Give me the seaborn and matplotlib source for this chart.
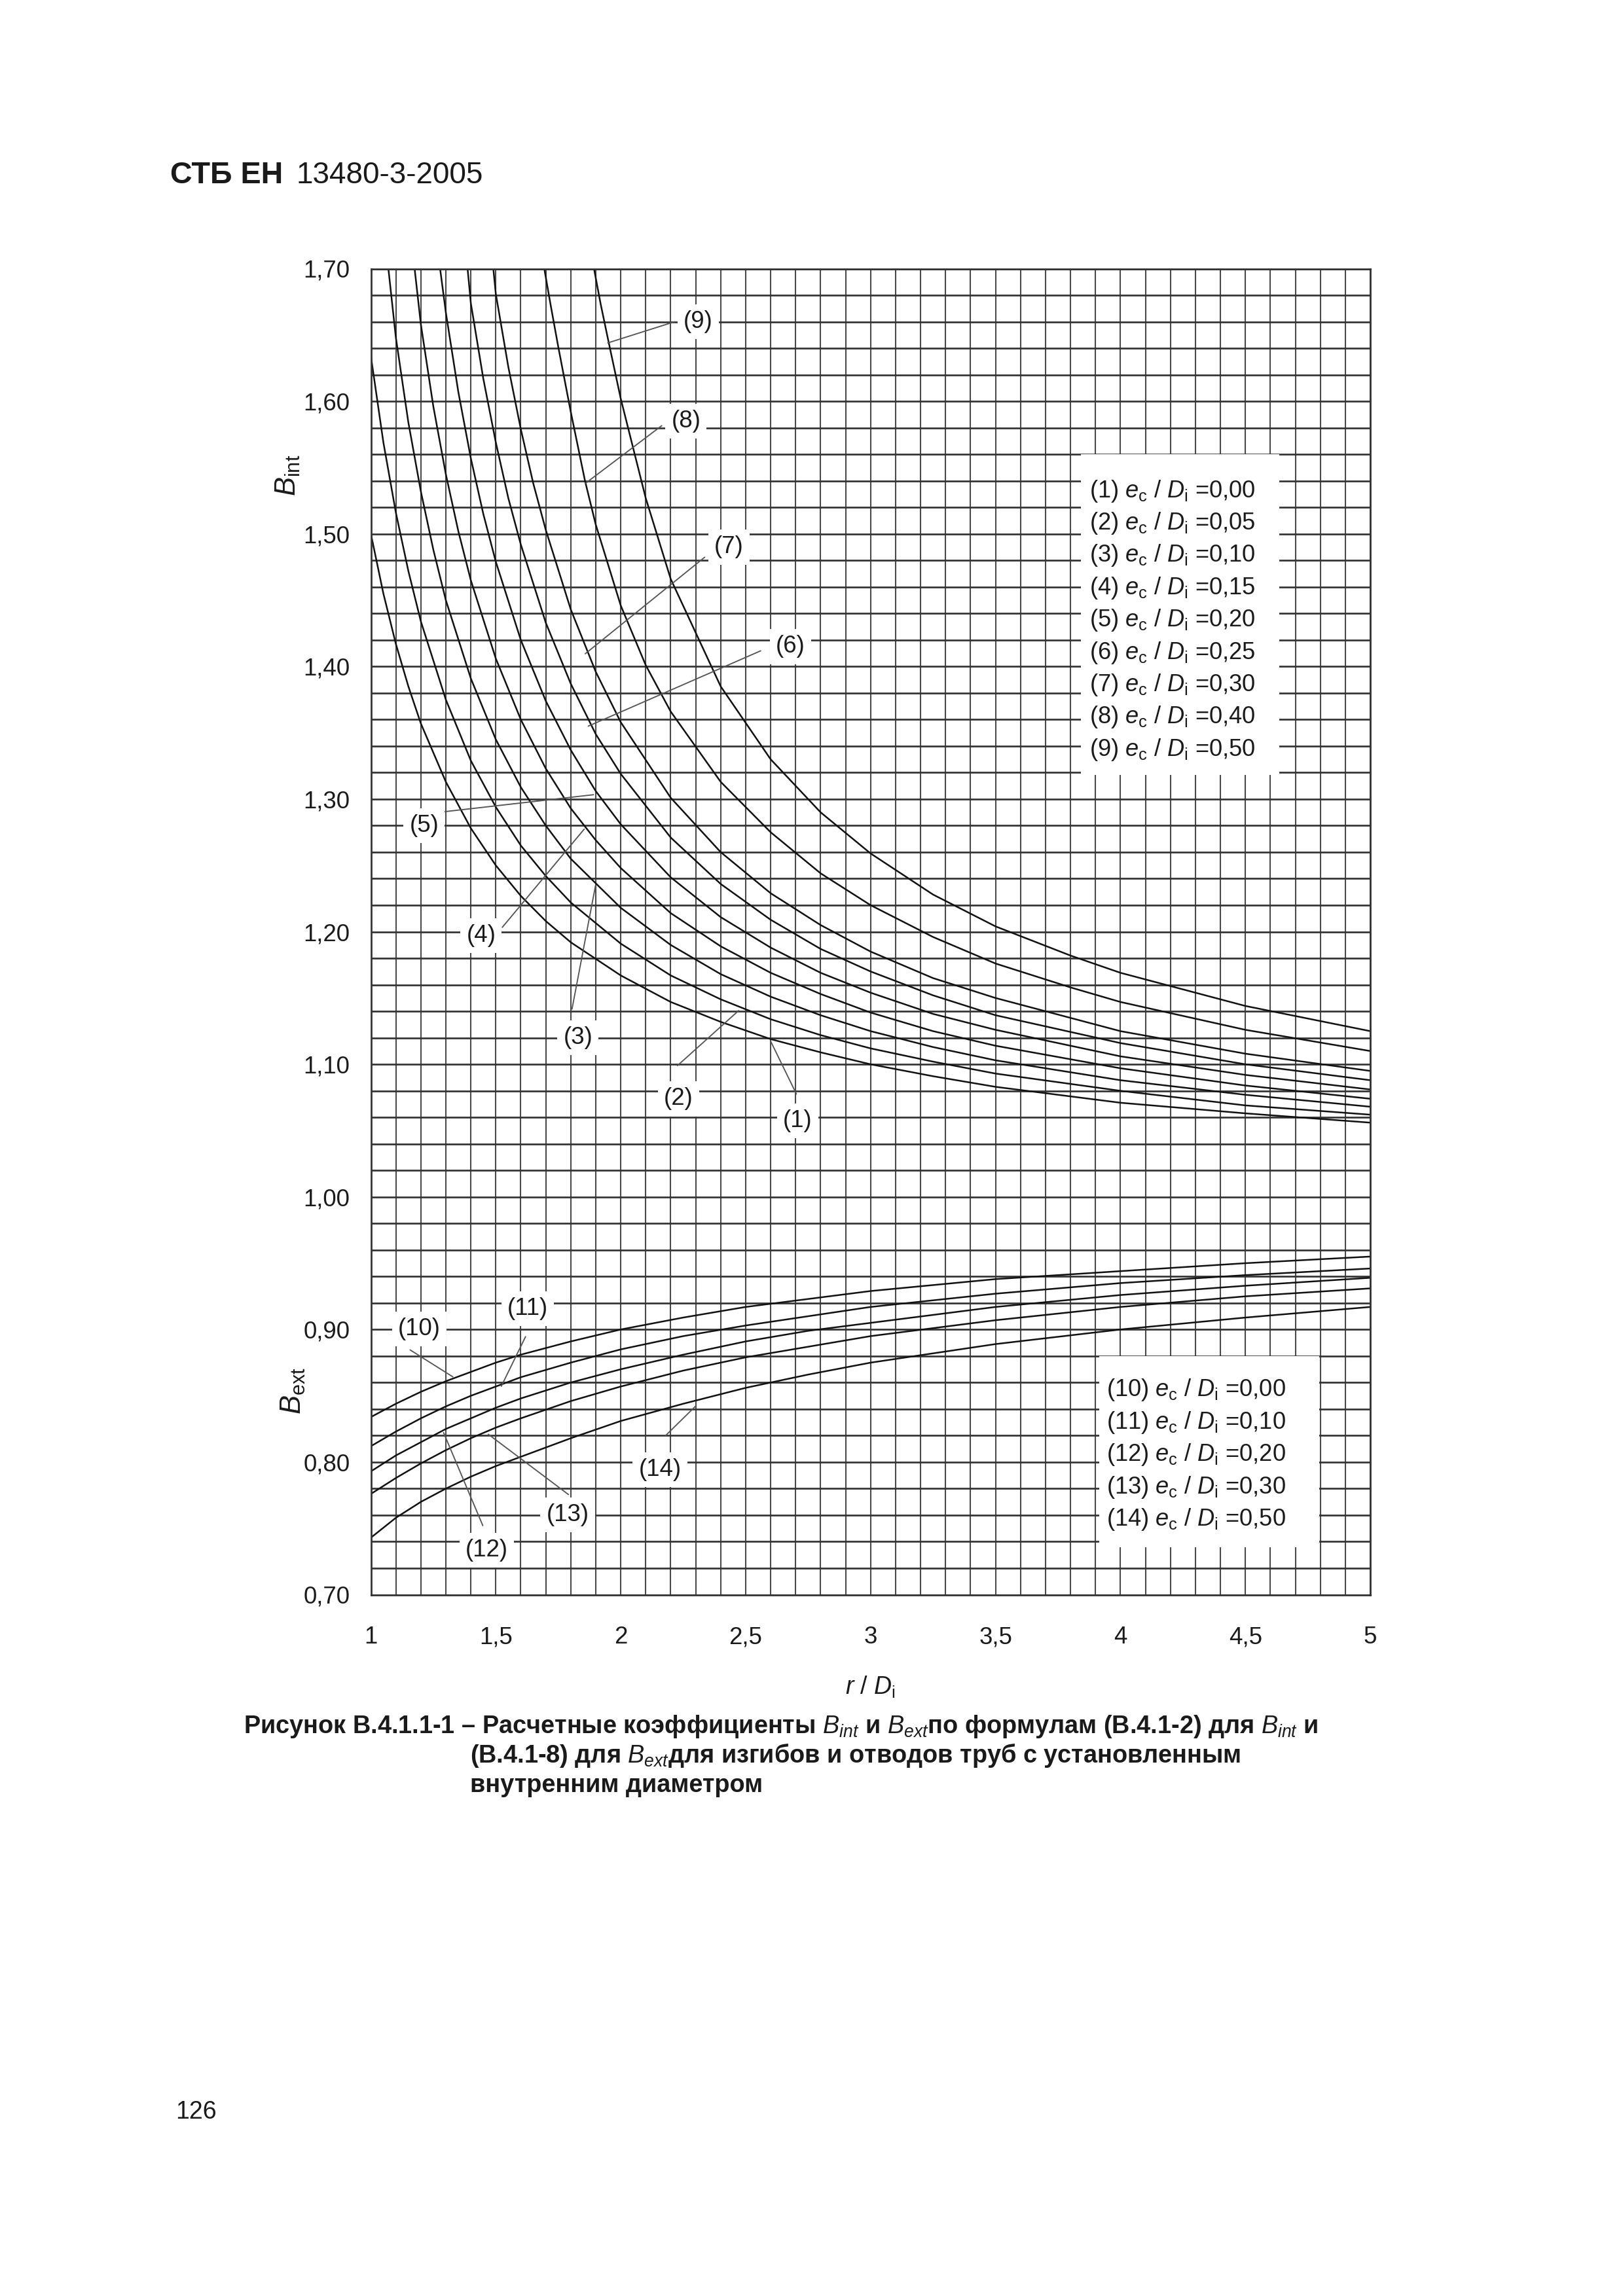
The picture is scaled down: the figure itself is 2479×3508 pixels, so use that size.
import numpy as np
import pandas as pd
import matplotlib
matplotlib.use("Agg")
import matplotlib.pyplot as plt
import matplotlib.transforms as mtransforms
from matplotlib.patches import Rectangle
import seaborn as sns

# ---------------- data ----------------
# B_int curves (1)..(9)
rd_1 = [1.0, 1.05, 1.1, 1.15, 1.2, 1.3, 1.4, 1.5, 1.6, 1.7, 1.8, 2.0, 2.2, 2.4, 2.6, 2.8, 3.0, 3.25, 3.5, 4.0, 4.5, 5.0]
bint_1 = [1.500, 1.455, 1.417, 1.385, 1.357, 1.313, 1.278, 1.250, 1.227, 1.208, 1.192, 1.167, 1.147, 1.132, 1.119, 1.109, 1.100, 1.091, 1.083, 1.071, 1.063, 1.056]
rd_2 = [1.0, 1.05, 1.1, 1.15, 1.2, 1.3, 1.4, 1.5, 1.6, 1.7, 1.8, 2.0, 2.2, 2.4, 2.6, 2.8, 3.0, 3.25, 3.5, 4.0, 4.5, 5.0]
bint_2 = [1.634, 1.569, 1.516, 1.472, 1.434, 1.375, 1.329, 1.294, 1.265, 1.242, 1.222, 1.191, 1.167, 1.149, 1.134, 1.122, 1.112, 1.102, 1.093, 1.080, 1.069, 1.062]
rd_3 = [1.07, 1.1, 1.15, 1.2, 1.25, 1.3, 1.4, 1.5, 1.6, 1.7, 1.8, 2.0, 2.2, 2.4, 2.6, 2.8, 3.0, 3.25, 3.5, 4.0, 4.5, 5.0]
bint_3 = [1.700, 1.648, 1.584, 1.532, 1.488, 1.450, 1.391, 1.345, 1.309, 1.280, 1.255, 1.218, 1.190, 1.168, 1.151, 1.137, 1.125, 1.113, 1.103, 1.088, 1.077, 1.068]
rd_4 = [1.175, 1.2, 1.25, 1.3, 1.35, 1.4, 1.5, 1.6, 1.7, 1.8, 1.9, 2.0, 2.2, 2.4, 2.6, 2.8, 3.0, 3.25, 3.5, 4.0, 4.5, 5.0]
bint_4 = [1.700, 1.658, 1.596, 1.545, 1.502, 1.465, 1.406, 1.360, 1.323, 1.293, 1.269, 1.248, 1.214, 1.189, 1.169, 1.153, 1.139, 1.125, 1.114, 1.097, 1.084, 1.074]
rd_5 = [1.277, 1.3, 1.35, 1.4, 1.45, 1.5, 1.6, 1.7, 1.8, 1.9, 2.0, 2.2, 2.4, 2.6, 2.8, 3.0, 3.25, 3.5, 4.0, 4.5, 5.0]
bint_5 = [1.700, 1.667, 1.607, 1.557, 1.515, 1.479, 1.420, 1.374, 1.337, 1.306, 1.281, 1.241, 1.211, 1.188, 1.169, 1.154, 1.138, 1.126, 1.106, 1.092, 1.081]
rd_6 = [1.387, 1.4, 1.45, 1.5, 1.55, 1.6, 1.7, 1.8, 1.9, 2.0, 2.2, 2.4, 2.6, 2.8, 3.0, 3.25, 3.5, 4.0, 4.5, 5.0]
bint_6 = [1.700, 1.674, 1.617, 1.569, 1.527, 1.492, 1.433, 1.387, 1.349, 1.319, 1.271, 1.236, 1.209, 1.187, 1.170, 1.152, 1.137, 1.116, 1.100, 1.088]
rd_7 = [1.49, 1.5, 1.55, 1.6, 1.65, 1.7, 1.8, 1.9, 2.0, 2.2, 2.4, 2.6, 2.8, 3.0, 3.25, 3.5, 4.0, 4.5, 5.0]
bint_7 = [1.700, 1.681, 1.626, 1.579, 1.538, 1.503, 1.443, 1.396, 1.358, 1.301, 1.260, 1.229, 1.205, 1.185, 1.165, 1.150, 1.125, 1.108, 1.095]
rd_8 = [1.694, 1.72, 1.75, 1.8, 1.857, 1.9, 2.0, 2.1, 2.2, 2.4, 2.6, 2.8, 3.0, 3.25, 3.5, 3.8, 4.0, 4.5, 5.0]
bint_8 = [1.700, 1.672, 1.641, 1.592, 1.540, 1.507, 1.446, 1.401, 1.366, 1.313, 1.275, 1.244, 1.220, 1.196, 1.176, 1.158, 1.147, 1.126, 1.110]
rd_9 = [1.893, 1.92, 1.95, 2.0, 2.1, 2.2, 2.4, 2.6, 2.8, 3.0, 3.25, 3.5, 3.8, 4.0, 4.5, 5.0]
bint_9 = [1.700, 1.673, 1.646, 1.602, 1.527, 1.466, 1.385, 1.330, 1.290, 1.259, 1.228, 1.204, 1.182, 1.169, 1.144, 1.125]

# B_ext curves (10)..(14)
rd_ext = [1.0, 1.1, 1.2, 1.3, 1.4, 1.5, 1.6, 1.8, 2.0, 2.25, 2.5, 2.75, 3.0, 3.5, 4.0, 4.5, 5.0]
bext_10 = [0.834, 0.844, 0.853, 0.861, 0.868, 0.875, 0.881, 0.891, 0.900, 0.909, 0.917, 0.923, 0.929, 0.938, 0.944, 0.950, 0.955]
bext_11 = [0.812, 0.823, 0.833, 0.842, 0.850, 0.857, 0.864, 0.875, 0.885, 0.895, 0.903, 0.910, 0.917, 0.927, 0.935, 0.941, 0.946]
bext_12 = [0.793, 0.805, 0.815, 0.825, 0.833, 0.841, 0.848, 0.860, 0.870, 0.881, 0.891, 0.899, 0.905, 0.917, 0.926, 0.933, 0.939]
bext_13 = [0.776, 0.788, 0.799, 0.809, 0.818, 0.826, 0.833, 0.846, 0.857, 0.869, 0.879, 0.887, 0.895, 0.907, 0.917, 0.925, 0.931]
bext_14 = [0.743, 0.758, 0.770, 0.780, 0.789, 0.797, 0.804, 0.818, 0.831, 0.844, 0.856, 0.866, 0.875, 0.889, 0.900, 0.909, 0.917]

# legend texts
int_ids = ["(1)", "(2)", "(3)", "(4)", "(5)", "(6)", "(7)", "(8)", "(9)"]
int_ratio = ["0,00", "0,05", "0,10", "0,15", "0,20", "0,25", "0,30", "0,40", "0,50"]
ext_ids = ["(10)", "(11)", "(12)", "(13)", "(14)"]
ext_ratio = ["0,00", "0,10", "0,20", "0,30", "0,50"]

x_tick_vals = [1, 1.5, 2, 2.5, 3, 3.5, 4, 4.5, 5]
x_tick_labels = ["1", "1,5", "2", "2,5", "3", "3,5", "4", "4,5", "5"]
y_tick_vals = [0.7, 0.8, 0.9, 1.0, 1.1, 1.2, 1.3, 1.4, 1.5, 1.6, 1.7]
y_tick_labels = ["0,70", "0,80", "0,90", "1,00", "1,10", "1,20", "1,30", "1,40", "1,50", "1,60", "1,70"]

# callout labels: text position, leader start, leader end (layout)
callouts = [
    ("(1)", (2.708, 1.0575), (2.703, 1.0776), (2.599, 1.1178)),
    ("(2)", (2.231, 1.0739), (2.227, 1.0990), (2.472, 1.1405)),
    ("(3)", (1.829, 1.1200), (1.805, 1.1417), (1.899, 1.2347)),
    ("(4)", (1.441, 1.1970), (1.526, 1.2033), (1.854, 1.2774)),
    ("(5)", (1.213, 1.2800), (1.295, 1.2905), (1.891, 1.3033)),
    ("(6)", (2.679, 1.4150), (2.560, 1.4118), (1.870, 1.3550)),
    ("(7)", (2.433, 1.4900), (2.336, 1.4824), (1.858, 1.4096)),
    ("(8)", (2.261, 1.5850), (2.164, 1.5816), (1.858, 1.5380)),
    ("(9)", (2.310, 1.6599), (2.216, 1.6600), (1.948, 1.6440)),
    ("(10)", (1.194, 0.9005), (1.157, 0.8846), (1.328, 0.8643)),
    ("(11)", (1.627, 0.9157), (1.619, 0.8946), (1.522, 0.8572)),
    ("(12)", (1.463, 0.7334), (1.448, 0.7521), (1.291, 0.8222)),
    ("(13)", (1.787, 0.7603), (1.791, 0.7755), (1.470, 0.8210)),
    ("(14)", (2.157, 0.7942), (2.179, 0.8199), (2.299, 0.8421)),
]

# ---------------- build table ----------------
frames = []
int_x = [rd_1, rd_2, rd_3, rd_4, rd_5, rd_6, rd_7, rd_8, rd_9]
int_y = [bint_1, bint_2, bint_3, bint_4, bint_5, bint_6, bint_7, bint_8, bint_9]
for i, (xs, ys) in enumerate(zip(int_x, int_y), start=1):
    frames.append(pd.DataFrame({"r": xs, "B": ys, "curve": i}))
for i, ys in enumerate([bext_10, bext_11, bext_12, bext_13, bext_14], start=10):
    frames.append(pd.DataFrame({"r": rd_ext, "B": ys, "curve": i}))
df = pd.concat(frames, ignore_index=True)

# ---------------- style ----------------
sns.set_theme(style="white")
plt.rcParams["font.family"] = ["Liberation Sans", "DejaVu Sans"]
plt.rcParams["mathtext.fontset"] = "custom"
plt.rcParams["mathtext.rm"] = "Liberation Sans"
plt.rcParams["mathtext.it"] = "Liberation Sans:italic"
plt.rcParams["mathtext.bf"] = "Liberation Sans:bold"
plt.rcParams["text.color"] = "#1a1a1a"

W, H = 2479, 3508
fig = plt.figure(figsize=(W / 300, H / 300), dpi=300)
fig.patch.set_facecolor("white")
L, R, T, B = 566.5, 2093.0, 410.5, 2436.5
ax = fig.add_axes([L / W, 1 - B / H, (R - L) / W, (B - T) / H])
ax.set_facecolor("white")

sns.lineplot(data=df, x="r", y="B", units="curve", estimator=None, sort=False,
             color="#111111", lw=0.6, legend=False, ax=ax, zorder=2)

ax.set_xlim(1, 5)
ax.set_ylim(0.70, 1.70)
ax.set_xlabel("")
ax.set_ylabel("")
ax.set_axisbelow(True)

ax.set_xticks(x_tick_vals)
ax.set_xticklabels(x_tick_labels)
ax.set_xticks(np.round(np.arange(1.0, 5.0001, 0.1), 2), minor=True)
ax.set_yticks(y_tick_vals)
ax.set_yticklabels(y_tick_labels)
ax.set_yticks(np.round(np.arange(0.70, 1.7001, 0.02), 2), minor=True)

ax.grid(which="both", axis="x", color="#4a4a4a", lw=0.5)
ax.grid(which="both", axis="y", color="#333333", lw=0.65)
ax.tick_params(axis="x", which="both", direction="out", length=3.0, width=0.5,
               color="#4a4a4a", pad=8.5, labelsize=8.8, labelcolor="#1a1a1a")
ax.tick_params(axis="y", which="major", direction="out", length=3.0, width=0.65,
               color="#333333", pad=4.7, labelsize=8.8, labelcolor="#1a1a1a")
ax.tick_params(axis="y", which="minor", length=0)
for s in ax.spines.values():
    s.set_visible(True)
    s.set_color("#333333")
    s.set_linewidth(0.65)

# white boxes for the key texts
ax.add_patch(Rectangle((3.842, 1.318), 4.636 - 3.842, 1.56 - 1.318,
                       facecolor="white", edgecolor="none", zorder=1))
ax.add_patch(Rectangle((3.914, 0.736), 4.796 - 3.914, 0.88 - 0.736,
                       facecolor="white", edgecolor="none", zorder=1))

for k, (cid, val) in enumerate(zip(int_ids, int_ratio)):
    ax.text(3.875, 1.5324 - k * 0.02438,
            cid + r" $e_\mathrm{c}$ / $D_\mathrm{i}$ =" + val,
            ha="left", va="center", fontsize=8.7, zorder=3)
for k, (cid, val) in enumerate(zip(ext_ids, ext_ratio)):
    ax.text(3.943, 0.8543 - k * 0.02438,
            cid + r" $e_\mathrm{c}$ / $D_\mathrm{i}$ =" + val,
            ha="left", va="center", fontsize=8.7, zorder=3)

# callouts
for txt, pos, p0, p1 in callouts:
    ax.annotate("", xy=p1, xytext=p0,
                arrowprops=dict(arrowstyle="-", color="#555555", lw=0.45,
                                shrinkA=0, shrinkB=0), zorder=2.5)
    ax.text(pos[0], pos[1], txt, ha="center", va="center", fontsize=8.8, zorder=3,
            bbox=dict(boxstyle="square,pad=0.25", facecolor="white", edgecolor="none"))

# axis labels
blend = mtransforms.blended_transform_factory(ax.transAxes, ax.transData)
ax.text(-0.0829, 1.5443, r"$B_\mathrm{int}$", rotation=90, ha="center", va="center",
        fontsize=10.5, transform=blend)
ax.text(-0.0780, 0.8537, r"$B_\mathrm{ext}$", rotation=90, ha="center", va="center",
        fontsize=10.5, transform=blend)
blend_x = mtransforms.blended_transform_factory(ax.transData, ax.transAxes)
ax.text(3.0, -0.0698, r"$r$ / $D_\mathrm{i}$", ha="center", va="center",
        fontsize=9, transform=blend_x)

# page header, footer and caption
fig.text(260 / W, 1 - 280 / H, "СТБ ЕН", fontsize=11.2, fontweight="bold", va="baseline")
fig.text(452 / W, 1 - 280 / H, "13480-3-2005", fontsize=11, va="baseline")
fig.text(268 / W, 1 - 3237 / H, "126", fontsize=9, va="baseline")

cap_font = ["Liberation Sans", "DejaVu Sans"]
cap1 = r"Рисунок В.4.1.1-1 – Расчетные коэффициенты $B_{int}$ и $B_{ext}$по формулам (В.4.1-2) для $B_{int}$ и"
cap2 = r"(В.4.1-8) для $B_{ext}$для изгибов и отводов труб с установленным"
cap3 = "внутренним диаметром"
fig.text(372 / W, 1 - 2648 / H, cap1, fontsize=9.1, fontweight="bold", va="baseline", family=cap_font)
fig.text(718 / W, 1 - 2693 / H, cap2, fontsize=9.1, fontweight="bold", va="baseline", family=cap_font)
fig.text(718 / W, 1 - 2738 / H, cap3, fontsize=9.1, fontweight="bold", va="baseline", family=cap_font)

fig.savefig("out.png", dpi=300, facecolor="white")
